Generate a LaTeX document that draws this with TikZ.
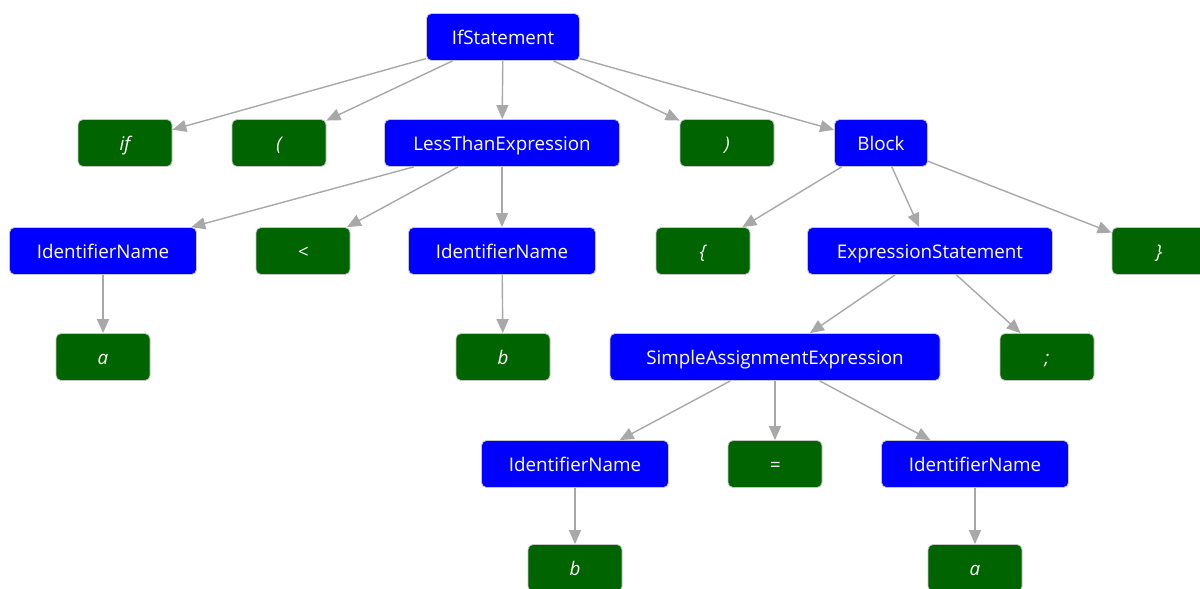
\documentclass[tikz,border=0pt]{standalone}
\usepackage{fontspec}
\setmainfont{Open Sans}
\usetikzlibrary{arrows.meta}
\definecolor{nblue}{HTML}{0000FF}
\definecolor{ngreen}{HTML}{006400}
\definecolor{edgegray}{HTML}{A8A8A8}
\tikzset{
  base/.style={rounded corners=2.5pt, draw=gray!45, line width=0.4pt, text=white,
    minimum height=23.5pt, inner sep=1pt, text height=7pt, text depth=0pt,
    font=\fontsize{9.4}{11}\selectfont},
  inner/.style={base, fill=nblue},
  leaf/.style={base, fill=ngreen, minimum width=47pt, font=\fontsize{9.4}{11}\selectfont\itshape},
  edge/.style={draw=edgegray, line width=0.7pt, -{Triangle[length=7pt,width=6pt]}}
}
\begin{document}
\begin{tikzpicture}[x=0.5pt,y=-0.5pt]
\useasboundingbox (0,0) rectangle (1200,589);
\node[inner, minimum width=76.5pt] (ifs) at (503,37) {IfStatement};
\node[leaf] (kif) at (125,143) {if};
\node[leaf] (lp) at (279,143) {(};
\node[inner, minimum width=117.5pt] (lt) at (502,143) {LessThanExpression};
\node[leaf] (rp) at (727,143) {)};
\node[inner, minimum width=46.5pt] (blk) at (881,143) {Block};
\node[inner, minimum width=93.5pt] (id1) at (103,251) {IdentifierName};
\node[leaf] (lt2) at (303,251) {<};
\node[inner, minimum width=93.5pt] (id2) at (502,251) {IdentifierName};
\node[leaf] (lb) at (703,251) {\{};
\node[inner, minimum width=122.5pt] (es) at (930,251) {ExpressionStatement};
\node[leaf] (rb) at (1159,251) {\}};
\node[leaf] (a1) at (103,357) {a};
\node[leaf] (b1) at (503,357) {b};
\node[inner, minimum width=165pt] (sae) at (775,357) {SimpleAssignmentExpression};
\node[leaf] (semi) at (1047,357) {;};
\node[inner, minimum width=93.5pt] (id3) at (575,464) {IdentifierName};
\node[leaf] (eq) at (775,464) {=};
\node[inner, minimum width=93.5pt] (id4) at (975,464) {IdentifierName};
\node[leaf] (b2) at (575,568) {b};
\node[leaf] (a2) at (975,568) {a};
\foreach \p/\c in {ifs/kif, ifs/lp, ifs/lt, ifs/rp, ifs/blk,
  lt/id1, lt/lt2, lt/id2, blk/lb, blk/es, blk/rb,
  id1/a1, id2/b1, es/sae, es/semi, sae/id3, sae/eq, sae/id4,
  id3/b2, id4/a2}
  \draw[edge] (\p) -- (\c);
\end{tikzpicture}
\end{document}
